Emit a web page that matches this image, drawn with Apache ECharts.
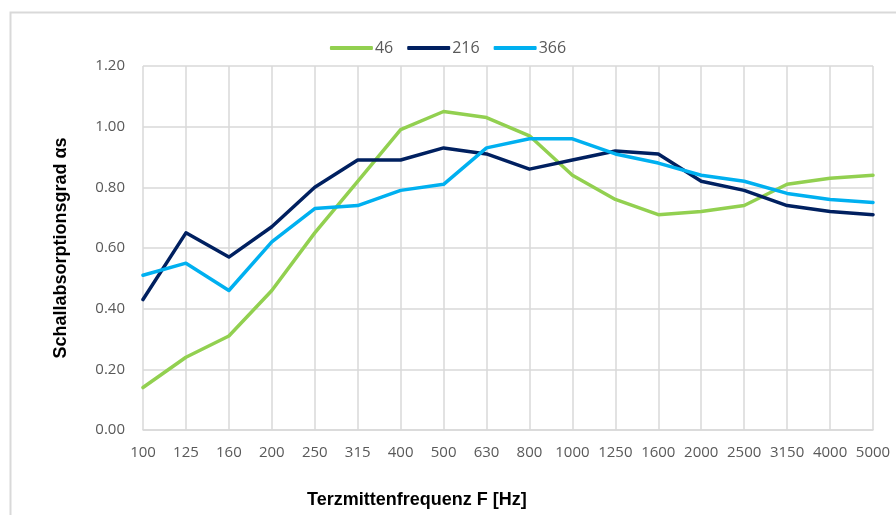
<!DOCTYPE html>
<html>
<head>
<meta charset="utf-8">
<script src="https://cdn.jsdelivr.net/npm/echarts@6/dist/echarts.min.js"></script>
<style>
html,body{margin:0;padding:0;background:#fff;}
#main{width:896px;height:515px;}
</style>
</head>
<body>
<div id="main"></div>
<script>
var categories = ['100','125','160','200','250','315','400','500','630','800','1000','1250','1600','2000','2500','3150','4000','5000'];
var s46  = [0.14,0.24,0.31,0.46,0.65,0.82,0.99,1.05,1.03,0.97,0.84,0.76,0.71,0.72,0.74,0.81,0.83,0.84];
var s216 = [0.43,0.65,0.57,0.67,0.80,0.89,0.89,0.93,0.91,0.86,0.89,0.92,0.91,0.82,0.79,0.74,0.72,0.71];
var s366 = [0.51,0.55,0.46,0.62,0.73,0.74,0.79,0.81,0.93,0.96,0.96,0.91,0.88,0.84,0.82,0.78,0.76,0.75];
var seriesNames = ['46','216','366'];
var seriesColors = ['#92d050','#002060','#00b0f0'];

var chart = echarts.init(document.getElementById('main'));
var data = [s46, s216, s366];
var series = [];
for (var i = 0; i < data.length; ++i) {
    series.push({
        name: seriesNames[i],
        type: 'line',
        data: data[i],
        symbol: 'none',
        lineStyle: {width: 3.5, color: seriesColors[i], cap: 'round', join: 'round'},
        itemStyle: {color: seriesColors[i]}
    });
}

var option = {
    animation: false,
    backgroundColor: '#fff',
    legend: {
        top: 35, left: 'center',
        icon: 'roundRect',
        itemWidth: 43, itemHeight: 4, itemGap: 14,
        data: seriesNames,
        textStyle: {color: '#595959', fontSize: 16, fontFamily: 'Open Sans', padding: [0,0,0,-3]}
    },
    grid: {left: 143, right: 23, top: 66, bottom: 85, containLabel: false},
    xAxis: {
        type: 'category', data: categories,
        boundaryGap: false,
        axisLine: {lineStyle: {color: '#d9d9d9', width: 1.5}},
        axisTick: {show: false},
        axisLabel: {color: '#595959', fontSize: 15, fontFamily: 'Open Sans', margin: 15, interval: 0},
        splitLine: {show: true, interval: 0, lineStyle: {color: '#d9d9d9', width: 1.5}}
    },
    yAxis: {
        type: 'value', min: 0, max: 1.2, interval: 0.2,
        name: 'Schallabsorptionsgrad αs',
        nameLocation: 'middle', nameGap: 73,
        nameTextStyle: {fontSize: 18, fontWeight: 'bold', color: '#000', fontFamily: 'Liberation Sans'},
        axisLine: {show: false},
        axisTick: {show: false},
        axisLabel: {color: '#595959', fontSize: 15, fontFamily: 'Open Sans', margin: 18,
            formatter: function (v) { return v.toFixed(2); }},
        splitLine: {lineStyle: {color: '#d9d9d9', width: 1.5}}
    },
    graphic: [
        {type: 'rect', left: 8, top: 10, shape: {width: 900, height: 520},
         style: {fill: 'none', stroke: '#d9d9d9', lineWidth: 2}, z: -1},
        {type: 'text', left: 307, top: 491,
         style: {text: 'Terzmittenfrequenz F [Hz]', fill: '#000', font: 'bold 18px "Liberation Sans"'}}
    ],
    series: series
};
chart.setOption(option);
</script>
</body>
</html>
